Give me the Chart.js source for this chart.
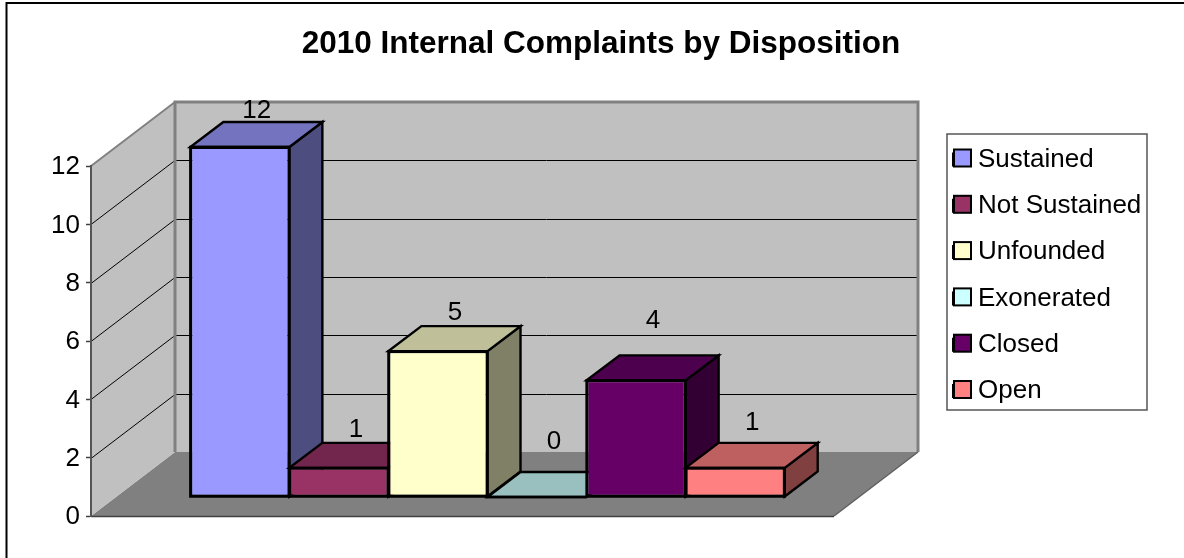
<!DOCTYPE html>
<html><head><meta charset="utf-8">
<style>html,body{margin:0;padding:0;background:#fff}canvas{display:block}</style>
<script src="https://cdn.jsdelivr.net/npm/chart.js@4"></script>
</head><body><canvas id="c" width="1184" height="558"></canvas>
<script>
const categories = ['2010'];
const seriesNames = ['Sustained','Not Sustained','Unfounded','Exonerated','Closed','Open'];
const seriesValues = [12,1,5,0,4,1];
const frontColors = ['#9999FF','#993366','#FFFFCC','#CCFFFF','#660066','#FF8080'];
const topColors = ['#7373BF','#73264D','#BFBF99','#99BFBF','#4D004D','#BF6060'];
const sideColors = ['#4D4D80','#4D1A33','#808066','#668080','#330033','#804040'];
const labelRaise = [36,38,38,55,60,45];
const FONT = '"Liberation Sans", Arial, sans-serif';

const wallDepth = {x:84, y:-64};
const barShift = {x:25, y:-19};
const barDepth = {x:33, y:-25};

function poly(ctx, pts, fill, stroke, lw){
  ctx.beginPath();
  pts.forEach((p,i)=> i?ctx.lineTo(p[0],p[1]):ctx.moveTo(p[0],p[1]));
  ctx.closePath();
  if(fill){ctx.fillStyle=fill;ctx.fill();}
  if(stroke){ctx.strokeStyle=stroke;ctx.lineWidth=lw;ctx.lineJoin='miter';ctx.stroke();}
}

const box3d = {
  id:'box3d',
  afterLayout(chart){
    const l = chart.legend;
    l.left = 932.7; l.right = 1184; l.top = 126.2; l.bottom = 558;
    const t = chart.titleBlock;
    t.left = 18; t.right = 1184;
  },
  beforeDraw(chart){
    const ctx = chart.ctx, a = chart.chartArea, y = chart.scales.y, d = wallDepth;
    ctx.save();
    ctx.fillStyle='#fff'; ctx.fillRect(0,0,chart.width,chart.height);
    ctx.strokeStyle='#000'; ctx.lineWidth=2; ctx.strokeRect(6.5,3,1300,800);
    const L=a.left,R=a.right,T=y.getPixelForValue(12),B=y.getPixelForValue(0);
    poly(ctx,[[L,B],[R,B],[R+d.x,B+d.y],[L+d.x,B+d.y]],'#808080');
    poly(ctx,[[L,B],[L+d.x,B+d.y],[L+d.x,T+d.y],[L,T]],'#C0C0C0');
    poly(ctx,[[L+d.x,B+d.y],[R+d.x,B+d.y],[R+d.x,T+d.y],[L+d.x,T+d.y]],'#C0C0C0');
    ctx.strokeStyle='#000'; ctx.lineWidth=1;
    y.ticks.forEach(t=>{
      if(t.value===0||t.value===12) return;
      const py=Math.round(y.getPixelForValue(t.value))+0.5;
      ctx.beginPath();ctx.moveTo(L,py);ctx.lineTo(L+d.x,py+d.y);ctx.lineTo(R+d.x,py+d.y);ctx.stroke();
    });
    ctx.beginPath();ctx.moveTo(L+d.x,T+d.y);ctx.lineTo(L,T);ctx.strokeStyle='#808080';ctx.lineWidth=2;ctx.stroke();
    ctx.strokeStyle='#808080';ctx.lineWidth=3;
    ctx.beginPath();ctx.moveTo(L+d.x,B+d.y);ctx.lineTo(L+d.x,T+d.y);ctx.lineTo(R+d.x,T+d.y);ctx.lineTo(R+d.x,B+d.y);ctx.stroke();
    ctx.beginPath();ctx.moveTo(R+d.x,B+d.y);ctx.lineTo(R,B);ctx.lineWidth=1.5;ctx.strokeStyle='#606060';ctx.stroke();
    ctx.beginPath();ctx.moveTo(L,B+0.5);ctx.lineTo(R,B+0.5);ctx.lineWidth=1.5;ctx.strokeStyle='#404040';ctx.stroke();
    ctx.strokeStyle='#555';ctx.lineWidth=1.5;ctx.strokeRect(947,134,200,276);
    ctx.restore();
  },
  beforeDatasetDraw(){ return false; },
  afterDatasetsDraw(chart){
    const ctx=chart.ctx, d=barDepth;
    ctx.save();
    ctx.translate(barShift.x, barShift.y);
    seriesNames.forEach((n,i)=>{
      const bar=chart.getDatasetMeta(i).data[0];
      bar.draw(ctx);
      const l=bar.x-bar.width/2, r=bar.x+bar.width/2, t=bar.y, b=bar.base;
      poly(ctx,[[r,t],[r+d.x,t+d.y],[r+d.x,b+d.y],[r,b]],sideColors[i],'#000',2.4);
      poly(ctx,[[l,t],[r,t],[r+d.x,t+d.y],[l+d.x,t+d.y]],topColors[i],'#000',2.4);
      poly(ctx,[[l,t],[r,t],[r,b],[l,b]],null,'#000',2.4);
    });
    ctx.fillStyle='#000';ctx.font='26px '+FONT;ctx.textAlign='center';ctx.textBaseline='middle';
    seriesNames.forEach((n,i)=>{
      const bar=chart.getDatasetMeta(i).data[0];
      ctx.fillText(String(seriesValues[i]), bar.x+17, bar.y-labelRaise[i]);
    });
    ctx.restore();
  },
  afterDraw(chart){
    const ctx=chart.ctx, l=chart.legend;
    ctx.save();
    l.legendItems.forEach((it,k)=>{
      const cy=158+k*46.3;
      ctx.fillStyle=it.fillStyle;ctx.strokeStyle='#000';ctx.lineWidth=2;
      ctx.fillRect(954,cy-8.5,17,17);ctx.strokeRect(954,cy-8.5,17,17);
    });
    ctx.restore();
  }
};

new Chart(document.getElementById('c'),{
  type:'bar',
  data:{
    labels:categories,
    datasets:seriesNames.map((n,i)=>({
      label:n,
      data:[seriesValues[i]],
      backgroundColor:frontColors[i],
      borderColor:'#000',
      borderWidth:2,
      borderSkipped:false,
      categoryPercentage:0.8,
      barPercentage:1,
      clip:false
    }))
  },
  options:{
    responsive:false,
    animation:false,
    layout:{padding:{left:0,top:0,right:350,bottom:42}},
    scales:{
      x:{display:false},
      y:{
        min:0,max:12,
        afterFit(s){s.width=91;},
        ticks:{stepSize:2,color:'#000',font:{family:FONT,size:26},padding:6,labelOffset:1},
        grid:{drawOnChartArea:false,tickLength:5,tickColor:'#404040',tickWidth:1.5},
        border:{color:'#555',width:2}
      }
    },
    plugins:{
      tooltip:{enabled:false},
      title:{display:true,text:'2010 Internal Complaints by Disposition',color:'#000',
        font:{family:FONT,size:31.5,weight:'bold'},padding:{top:25,bottom:103.2}},
      legend:{position:'chartArea',align:'start',
        labels:{boxWidth:12,boxHeight:12,padding:20.3,color:'#000',font:{family:FONT,size:26}}}
    }
  },
  plugins:[box3d]
});
</script></body></html>
